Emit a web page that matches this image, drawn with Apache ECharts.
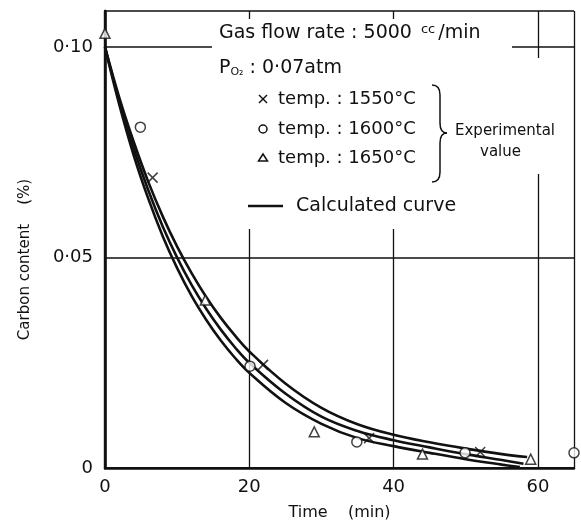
<!DOCTYPE html>
<html>
<head>
<meta charset="utf-8">
<script src="https://cdn.jsdelivr.net/npm/echarts@6/dist/echarts.min.js"></script>
<style>
  html, body { margin: 0; background: #fff; }
  #chart { width: 581px; height: 529px; }
</style>
</head>
<body>
<div id="chart"></div>
<script>
// calculated curves
const curveTime = [0, 2, 4, 6, 8, 10, 12, 14, 16, 18, 20, 25, 30, 35, 40, 45, 50, 55];
const upperCurve = [0.100, 0.0879, 0.0774, 0.0680, 0.0598, 0.0526, 0.0463, 0.0407, 0.0358, 0.0315, 0.0277, 0.0201, 0.0143, 0.0104, 0.0079, 0.0061, 0.0046, 0.0033];
const middleCurve = [0.100, 0.0871, 0.0758, 0.0660, 0.0574, 0.0500, 0.0435, 0.0379, 0.0330, 0.0287, 0.0250, 0.0177, 0.0122, 0.0088, 0.0066, 0.0049, 0.0033, 0.0019];
const lowerCurve = [0.100, 0.0862, 0.0742, 0.0640, 0.0551, 0.0475, 0.0409, 0.0353, 0.0304, 0.0262, 0.0226, 0.0155, 0.0105, 0.0071, 0.0052, 0.0036, 0.0021, 0.0008];
const curveEnds = [[58.5, 0.0026], [58, 0.0010], [57.5, 0.0002]];

// experimental values [time, carbon %]
const temp1550 = [[6.6, 0.069], [21.9, 0.0245], [36.6, 0.0071], [52.0, 0.0038]];
const temp1600 = [[4.9, 0.081], [20.1, 0.0242], [34.9, 0.0062], [49.9, 0.0036], [65.0, 0.0036]];
const temp1650 = [[0, 0.1033], [13.9, 0.0399], [29.0, 0.0086], [44.0, 0.0033], [59.0, 0.0021]];

const xTicks = [0, 20, 40, 60];
const yTicks = [0, 0.05, 0.10];
const yTickText = ['0', '0·05', '0·10'];

const font = 'DejaVu Sans';
const ink = '#111';
const crossPath = 'path://M0,0L10,10M10,0L0,10';

const chart = echarts.init(document.getElementById('chart'));

function curve(vals, end) {
  const pts = curveTime.map((t, i) => [t, vals[i]]);
  pts.push(end);
  return {
    type: 'line', data: pts, smooth: 0.4, symbol: 'none',
    lineStyle: { color: ink, width: 2.6 }, z: 3
  };
}

function yLabel(v) {
  const i = yTicks.findIndex(t => Math.abs(t - v) < 1e-6);
  return i < 0 ? '' : yTickText[i];
}

const thin = { stroke: ink, lineWidth: 1.5 };
const txt = (s, x, y, size) => ({
  type: 'text', z: 60, x: x, y: y,
  style: { text: s, fill: ink, font: size + 'px "' + font + '"', verticalAlign: 'middle' }
});

const option = {
  backgroundColor: '#fff',
  animation: false,
  grid: { left: 105, right: 7, top: 11, bottom: 61 },
  xAxis: [{
    type: 'value', min: 0, max: 65, interval: 20,
    name: 'Time    (min)', nameLocation: 'middle', nameGap: 37,
    nameTextStyle: { fontFamily: font, fontSize: 16, color: ink },
    axisLine: { lineStyle: { color: ink, width: 2.5 } },
    axisTick: { show: false },
    axisLabel: {
      fontFamily: font, fontSize: 18, color: ink, margin: 10,
      formatter: v => (xTicks.indexOf(v) >= 0 ? String(v) : '')
    },
    splitLine: { lineStyle: { color: ink, width: 1.3 } }
  }, {
    type: 'value', position: 'top', min: 0, max: 65,
    axisLine: { lineStyle: { color: ink, width: 1.5 } },
    axisTick: { show: false }, axisLabel: { show: false }, splitLine: { show: false }
  }],
  yAxis: [{
    type: 'value', min: 0, max: 0.1086, interval: 0.05,
    name: 'Carbon content    (%)', nameLocation: 'middle', nameGap: 72,
    nameTextStyle: { fontFamily: font, fontSize: 15, color: ink, padding: [0, 40, 0, 0] },
    axisLine: { lineStyle: { color: ink, width: 2.5 } },
    axisTick: { show: false },
    axisLabel: { fontFamily: font, fontSize: 18, color: ink, margin: 12, formatter: yLabel },
    splitLine: { lineStyle: { color: ink, width: 1.5 } }
  }, {
    type: 'value', position: 'right', min: 0, max: 0.1086,
    axisLine: { show: true, lineStyle: { color: ink, width: 2.4 } },
    axisTick: { show: false }, axisLabel: { show: false }, splitLine: { show: false }
  }],
  series: [
    curve(upperCurve, curveEnds[0]),
    curve(middleCurve, curveEnds[1]),
    curve(lowerCurve, curveEnds[2]),
    {
      name: 'temp. : 1550°C', type: 'scatter', data: temp1550, clip: false, z: 4,
      symbol: crossPath, symbolSize: 10,
      itemStyle: { color: 'transparent', borderColor: ink, borderWidth: 1.5 }
    },
    {
      name: 'temp. : 1600°C', type: 'scatter', data: temp1600, clip: false, z: 4,
      symbol: 'circle', symbolSize: 10,
      itemStyle: { color: '#fff', borderColor: ink, borderWidth: 1.5 }
    },
    {
      name: 'temp. : 1650°C', type: 'scatter', data: temp1650, clip: false, z: 4,
      symbol: 'triangle', symbolSize: 10,
      itemStyle: { color: '#fff', borderColor: ink, borderWidth: 1.5 }
    }
  ],
  graphic: [
    // legend panel hides the grid behind it
    { type: 'rect', z: 50, shape: { x: 212, y: 19, width: 300, height: 210 }, style: { fill: '#fff' } },
    { type: 'rect', z: 50, shape: { x: 512, y: 58, width: 36, height: 116 }, style: { fill: '#fff' } },
    {
      type: 'text', z: 60, x: 219, y: 33,
      style: {
        text: 'Gas flow rate : 5000 {s|cc}/min', fill: ink, font: '19px "' + font + '"', verticalAlign: 'middle',
        rich: { s: { fontSize: 13, fontFamily: font, verticalAlign: 'top', padding: [0, 3, 7, 3] } }
      }
    },
    {
      type: 'text', z: 60, x: 219, y: 68,
      style: {
        text: 'P{b|O₂} : 0·07atm', fill: ink, font: '19px "' + font + '"', verticalAlign: 'middle',
        rich: { b: { fontSize: 11, fontFamily: font, verticalAlign: 'bottom', padding: [7, 0, 0, 0] } }
      }
    },
    { type: 'line', z: 60, shape: { x1: 259, y1: 95, x2: 267, y2: 103 }, style: thin },
    { type: 'line', z: 60, shape: { x1: 267, y1: 95, x2: 259, y2: 103 }, style: thin },
    { type: 'circle', z: 60, shape: { cx: 263, cy: 129, r: 4 }, style: { stroke: ink, lineWidth: 1.5, fill: '#fff' } },
    { type: 'polygon', z: 60, shape: { points: [[263, 154], [267.5, 161], [258.5, 161]] }, style: { stroke: ink, lineWidth: 1.5, fill: '#fff' } },
    txt('temp. : 1550°C', 278, 99, 18),
    txt('temp. : 1600°C', 278, 129, 18),
    txt('temp. : 1650°C', 278, 158, 18),
    // brace
    { type: 'bezierCurve', z: 60, shape: { x1: 432, y1: 85, x2: 440, y2: 95, cpx1: 440, cpy1: 85 }, style: thin },
    { type: 'line', z: 60, shape: { x1: 440, y1: 95, x2: 440, y2: 123 }, style: thin },
    { type: 'bezierCurve', z: 60, shape: { x1: 440, y1: 123, x2: 447, y2: 133, cpx1: 440, cpy1: 133 }, style: thin },
    { type: 'bezierCurve', z: 60, shape: { x1: 447, y1: 133, x2: 440, y2: 143, cpx1: 440, cpy1: 133 }, style: thin },
    { type: 'line', z: 60, shape: { x1: 440, y1: 143, x2: 440, y2: 172 }, style: thin },
    { type: 'bezierCurve', z: 60, shape: { x1: 440, y1: 172, x2: 432, y2: 182, cpx1: 440, cpy1: 182 }, style: thin },
    txt('Experimental', 455, 131, 15),
    txt('value', 480, 152, 15),
    { type: 'line', z: 60, shape: { x1: 248, y1: 206, x2: 283, y2: 206 }, style: { stroke: ink, lineWidth: 2.5 } },
    txt('Calculated curve', 296, 206, 19)
  ]
};

chart.setOption(option);
</script>
</body>
</html>
